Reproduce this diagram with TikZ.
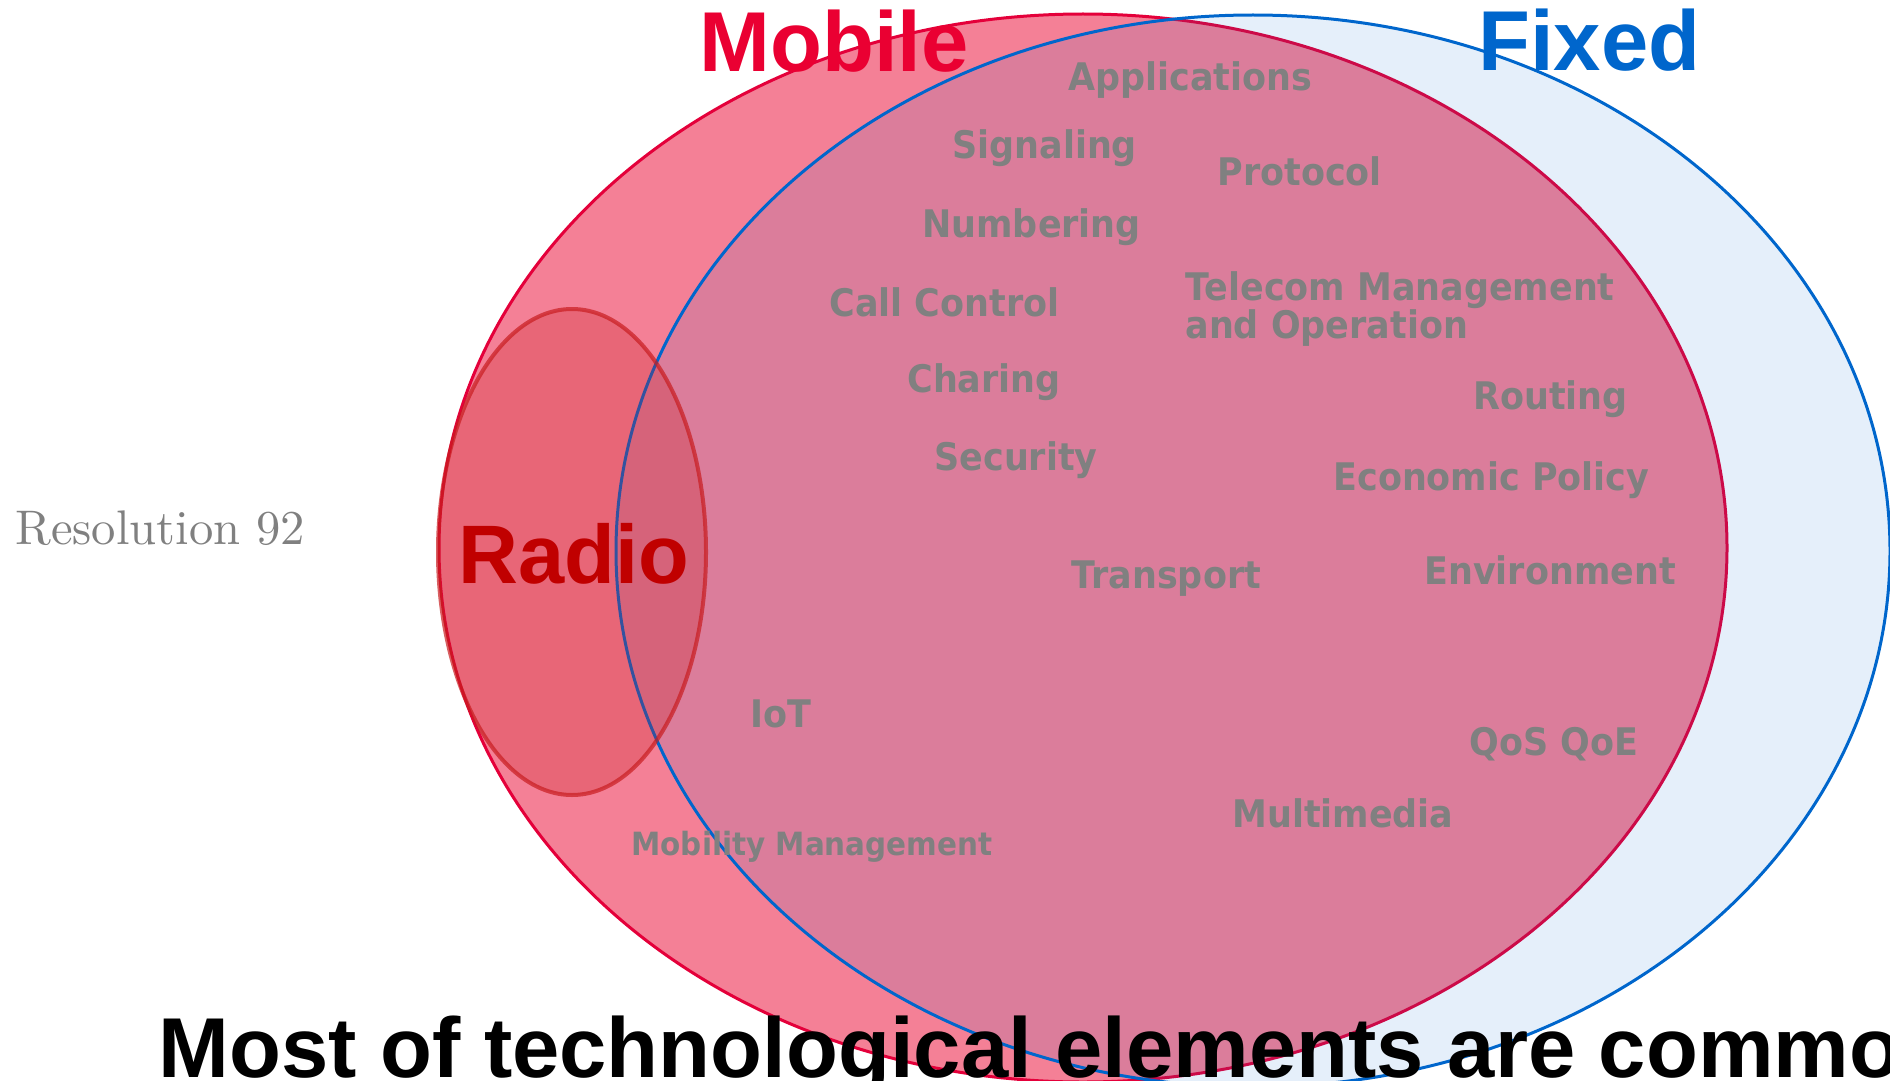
\documentclass[tikz,border=0pt]{standalone}
\usepackage{fontspec}
\newfontfamily\headfont{Liberation Sans}
\newfontfamily\topicfont{DejaVu Sans}[FakeStretch=0.92]
\newfontfamily\resfont{lmroman10-regular.otf}
\definecolor{mobilefill}{RGB}{244,128,150}
\definecolor{mobileline}{RGB}{228,0,58}
\definecolor{mobiletext}{RGB}{234,0,50}
\definecolor{fixedblue}{RGB}{0,102,204}
\definecolor{radiored}{RGB}{200,28,31}
\definecolor{radiotext}{RGB}{192,0,0}
\definecolor{topicgray}{RGB}{128,128,128}
\begin{document}
\begin{tikzpicture}[x=0.5pt,y=-0.5pt,
  mobileset/.style={fill=mobilefill,draw=mobileline,line width=1.5pt},
  fixedset/.style={fill=fixedblue,fill opacity=0.1,draw=fixedblue,draw opacity=1,line width=1.5pt},
  radioset/.style={fill=radiored,fill opacity=0.26,draw=radiored,draw opacity=0.7,line width=2pt},
  heading/.style={anchor=base west,inner sep=0pt,font=\headfont\bfseries\fontsize{42.5}{42.5}\selectfont},
  topic/.style={anchor=base west,inner sep=0pt,text=topicgray,font=\topicfont\bfseries\fontsize{19}{19}\selectfont},
  smalltopic/.style={topic,font=\topicfont\bfseries\fontsize{16}{16}\selectfont}]
\useasboundingbox (0,0) rectangle (1890,1081);

\draw[mobileset] (1083,548) ellipse [x radius=644, y radius=534];
\draw[fixedset] (1253,551) ellipse [x radius=637, y radius=536];
\draw[radioset] (572,552) ellipse [x radius=134, y radius=243];

\node[heading,text=mobiletext] (mobile) at (699,72) {Mobile};
\node[heading,text=fixedblue] (fixed) at (1478,71) {Fixed};
\node[heading,text=radiotext,font=\headfont\bfseries\fontsize{41.5}{41.5}\selectfont] (radio) at (458,583) {Radio};
\node[heading,text=black] (common) at (158,1077) {Most of technological elements are commo};

\node[anchor=base west,inner sep=0pt,text=topicgray,font=\resfont\fontsize{24.3}{24.3}\selectfont] (res) at (15,544) {Resolution 92};

\node[topic] (apps) at (1068,91) {Applications};
\node[topic] (signal) at (952,158) {Signaling};
\node[topic] (proto) at (1217,185) {Protocol};
\node[topic] (number) at (922,237) {Numbering};
\node[topic] (call) at (829,316) {Call Control};
\node[topic,align=left] (tmo) at (1185,338) {Telecom Management\\and Operation};
\node[topic] (charge) at (907,392) {Charing};
\node[topic] (route) at (1473,409) {Routing};
\node[topic] (secure) at (934,470) {Security};
\node[topic] (econ) at (1333,490) {Economic Policy};
\node[topic] (env) at (1424,584) {Environment};
\node[topic] (trans) at (1071,588) {Transport};
\node[topic] (iot) at (750,727) {IoT};
\node[topic] (qos) at (1469,755) {QoS QoE};
\node[topic] (media) at (1232,827) {Multimedia};
\node[smalltopic] (mobility) at (631,855) {Mobility Management};

\end{tikzpicture}
\end{document}
